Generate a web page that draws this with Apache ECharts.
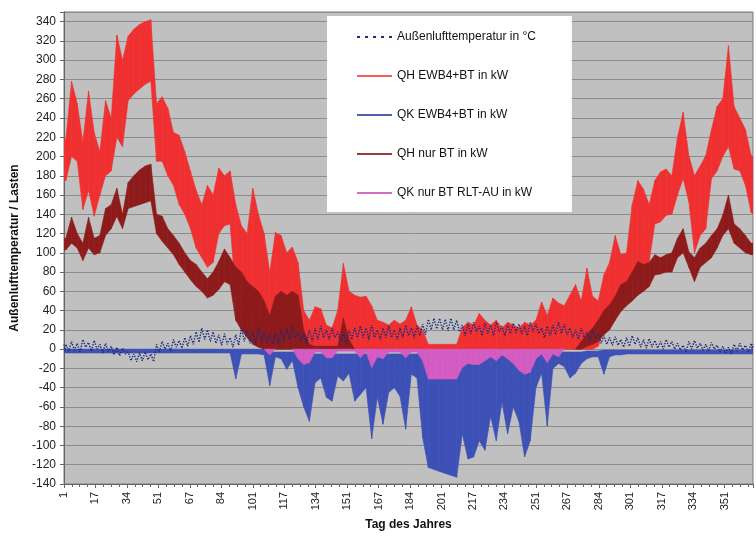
<!DOCTYPE html>
<html><head><meta charset="utf-8">
<script src="https://cdn.jsdelivr.net/npm/echarts@6/dist/echarts.min.js"></script>
<style>html,body{margin:0;padding:0;background:#fff}#c{width:756px;height:536px}</style>
</head><body><div id="c"></div>
<script>
// sample positions (days since 1 Jan, x axis value)
const dayPos = [0,1,4,7,10,13,16,19,22,25, 28,31,34,37,40,43,46,49,52,55, 58,61,64,67,70,73,76,79,82,85, 88,91,94,97,100,103,106,109,112,115, 118,121,124,127,130,133,136,139,142,145, 148,151,154,157,160,163,166,169,172,175, 178,181,184,187,190,193,196,199,202,205, 208,211,214,217,220,223,226,229,232,235, 238,241,244,247,250,253,256,259,262,265, 268,271,274,277,280,283,286,289,292,295, 298,301,304,307,310,313,316,319,322,325, 328,331,334,337,340,343,346,349,352,355, 358,361,364,365];

const tickLabels = ['1','17','34','51','67','84','101','117','134','151','167','184','201','217','234','251','267','284','301','317','334','351'];

// QH EWB4+BT in kW (upper / lower envelope)
const qhHi = [218,218,278,255,215,268,225,205,258,240, 326,300,325,332,337,340,342,255,262,250, 225,222,205,185,165,150,170,160,188,180, 185,150,128,120,167,140,120,80,121,118, 100,106,90,40,30,44,42,25,22,40, 89,60,56,54,55,45,30,28,25,30, 26,30,44,25,20,5,5,5,5,5, 5,22,28,25,37,30,25,30,22,28, 25,22,28,25,30,49,35,53,48,45, 56,67,50,84,55,50,77,90,118,98, 100,150,175,166,150,175,184,187,180,220, 246,201,180,190,201,228,252,260,315,252, 240,228,201,200];
const qhLo = [175,175,200,195,145,165,138,160,180,185, 220,210,258,265,270,275,278,195,195,180, 170,150,140,125,105,95,85,90,120,128, 130,55,70,35,40,15,10,2,10,15, 15,10,5,0,0,0,0,0,0,0, 0,0,0,0,0,0,0,0,0,0, 0,0,0,0,0,0,0,0,0,0, 0,0,0,0,0,0,0,0,0,0, 0,0,0,0,0,0,0,0,0,0, 0,0,0,0,0,3,20,22,32,50, 55,70,77,85,91,130,132,139,140,160, 177,153,100,118,125,177,185,200,210,187, 185,170,142,140];

// QH nur BT in kW
const qhbtHi = [115,115,137,120,110,137,115,118,146,150, 167,140,173,180,186,190,192,140,138,125, 118,110,100,92,88,80,73,80,91,104, 95,85,80,70,65,60,50,35,55,60, 56,60,56,20,5,3,3,3,3,3, 32,10,0,0,0,0,0,0,0,0, 0,0,0,0,0,0,0,0,0,0, 0,0,0,0,0,0,0,0,0,0, 0,0,0,0,0,0,0,0,0,0, 0,0,8,15,22,30,40,46,55,67, 70,80,91,88,90,98,95,98,100,115, 125,101,95,105,110,118,125,139,160,130, 125,118,110,110];
const qhbtLo = [103,103,110,105,92,105,98,100,118,125, 138,125,146,148,150,152,154,120,112,105, 98,88,80,72,65,60,53,56,62,70, 67,30,20,12,5,2,0,0,0,0, 0,0,0,0,0,0,0,0,0,0, 0,0,0,0,0,0,0,0,0,0, 0,0,0,0,0,0,0,0,0,0, 0,0,0,0,0,0,0,0,0,0, 0,0,0,0,0,0,0,0,0,0, 0,0,0,3,5,8,15,20,30,39, 45,50,56,60,65,77,78,80,80,95, 100,85,70,85,90,95,105,118,125,110, 105,100,98,98];

// QK EWB4+BT in kW
const qkHi = [0,0,0,0,0,0,0,0,0,0, 0,0,0,0,0,0,0,0,0,0, 0,0,0,0,0,0,0,0,0,0, 0,0,0,0,0,0,0,-3,-3,-3, -3,-3,-3,-3,-3,-5,-5,-5,-5,-5, -5,-5,-5,-5,-5,-5,-5,-5,-5,-5, -5,-5,-5,-5,-5,-5,-5,-5,-5,-5, -5,-5,-5,-5,-5,-5,-5,-5,-5,-5, -5,-5,-5,-5,-5,-4,-4,-4,-3,-3, -3,-3,-3,-2,-2,-2,-1,-1,-1,-1, -1,-1,-1,-1,-1,-1,-1,-1,-1,-1, -1,-1,-1,-1,-1,-1,-1,-1,-1,-1, -1,-1,-1,-1];
const qkLo = [-4,-4,-4,-4,-4,-4,-4,-4,-4,-4, -4,-4,-4,-4,-4,-4,-4,-4,-4,-4, -4,-4,-4,-4,-4,-4,-4,-4,-4,-4, -4,-31,-5,-5,-5,-5,-6,-38,-8,-10, -21,-12,-40,-60,-75,-35,-30,-50,-54,-28, -33,-25,-54,-47,-40,-93,-50,-78,-45,-40, -49,-83,-26,-30,-92,-123,-125,-127,-129,-131, -133,-88,-114,-112,-95,-105,-70,-95,-55,-88, -60,-75,-112,-95,-40,-25,-80,-20,-15,-18, -30,-25,-15,-10,-8,-8,-26,-8,-6,-6, -5,-5,-5,-5,-5,-5,-5,-5,-5,-5, -5,-5,-5,-5,-5,-5,-5,-5,-5,-5, -5,-5,-5,-5];

// QK nur BT RLT-AU in kW (from 0 down to)
const qkbtLo = [0,0,0,0,0,0,0,0,0,0, 0,0,0,0,0,0,0,0,0,0, 0,0,0,0,0,0,0,0,0,0, 0,0,0,0,0,0,0,-6,0,0, 0,0,-10,-16,-14,-3,-3,-9,-9,-2, -2,-2,-2,-9,-3,-19,-8,-10,-3,-3, -3,-9,-3,-3,-12,-31,-31,-31,-31,-31, -31,-19,-15,-16,-16,-12,-8,-12,-6,-10, -15,-22,-26,-24,-10,-5,-14,-5,-8,0, 0,0,0,0,0,0,0,0,0,0, 0,0,0,0,0,0,0,0,0,0, 0,0,0,0,0,0,0,0,0,0, 0,0,0,0];

// Außenlufttemperatur in °C (daily max / min)
const tHi = [5,5,8,6,10,7,9,5,6,3, 2,1,-3,-5,-4,-3,-5,5,8,6, 10,9,12,14,18,22,20,18,15,16, 12,15,22,20,18,22,18,15,16,20, 22,24,18,16,20,22,24,20,22,18, 16,20,22,24,22,25,20,22,24,20, 22,25,22,24,26,31,32,32,31,32, 30,25,26,28,24,27,25,28,24,26, 27,26,24,28,26,22,24,25,28,26, 22,20,22,18,20,16,14,12,13,10, 12,14,12,10,11,9,8,10,8,6, 4,8,9,6,5,7,4,3,2,5, 6,4,6,5];
const tLo = [-2,-2,-1,-3,2,-2,0,-4,-3,-6, -7,-5,-12,-13,-12,-11,-13,-3,0,-2, 2,1,3,5,7,10,8,6,4,5, 2,4,8,6,5,8,6,5,6,8, 10,12,8,6,8,10,12,10,12,8, 6,10,12,12,10,12,10,12,12,10, 12,14,12,14,15,20,21,20,19,20, 18,14,16,18,14,16,14,18,14,16, 17,16,14,18,16,12,14,15,16,15, 12,10,12,8,10,6,5,4,4,2, 3,5,2,1,2,1,0,2,0,-1, -3,0,1,-1,-2,0,-3,-4,-5,-2, -1,-3,-1,-2];

const NAMES = ['Außenlufttemperatur in °C','QH EWB4+BT in kW','QK EWB4+BT in kW','QH nur BT in kW','QK nur BT RLT-AU in kW'];
const COLORS = ['#1c2a7c','#f03030','#3d50b6','#8e1b1b','#d45cc2'];

function bandData(lo, hi) {
  const rows = [];
  for (let i = 0; i < dayPos.length - 1; i++) rows.push([dayPos[i], lo[i], hi[i], dayPos[i + 1], lo[i + 1], hi[i + 1]]);
  return rows;
}
function bandSeries(name, lo, hi, color) {
  return {
    name, type: 'custom', coordinateSystem: 'cartesian2d', clip: true,
    data: bandData(lo, hi),
    encode: {x: [0, 3], y: [1, 2, 4, 5]},
    itemStyle: {color},
    renderItem: function (params, api) {
      const x0 = api.value(0), l0 = api.value(1), h0 = api.value(2);
      const x1 = api.value(3), l1 = api.value(4), h1 = api.value(5);
      if (l0 === h0 && l1 === h1) return null;
      const pts = [api.coord([x0, l0]), api.coord([x0, h0]), api.coord([x1, h1]), api.coord([x1, l1])];
      return {type: 'polygon', shape: {points: pts}, style: {fill: color, stroke: color, lineWidth: 0.6}};
    }
  };
}
const zeros = qkbtLo.map(() => 0);
const tempPts = [];
for (let i = 0; i < dayPos.length; i++) {
  tempPts.push([dayPos[i], tHi[i]]);
  if (i < dayPos.length - 1) tempPts.push([(dayPos[i] + dayPos[i + 1]) / 2, tLo[i]]);
}

const STEP = 400 / 24;
const lineIcon = 'path://M0 0h35v2h-35z';
const dotIcon = 'path://M0 0h3v2h-3z M8 0h3v2h-3z M16 0h3v2h-3z M24 0h3v2h-3z M32 0h3v2h-3z';

const chart = echarts.init(document.getElementById('c'));
chart.setOption({
  animation: false,
  textStyle: {fontFamily: 'Liberation Sans, Arial, sans-serif'},
  grid: {left: 64, right: 3, top: 12, bottom: 49, show: true, backgroundColor: '#c0c0c0', borderColor: '#7a7a7a', borderWidth: 1},
  legend: {
    orient: 'vertical', left: 327, top: 16, backgroundColor: '#ffffff',
    padding: [15, 36, 13, 30], itemGap: 27, itemWidth: 35, itemHeight: 12, selectedMode: false,
    textStyle: {fontSize: 12, color: '#111'},
    data: [
      {name: NAMES[0], icon: dotIcon, itemStyle: {color: COLORS[0], borderWidth: 0}},
      {name: NAMES[1], icon: lineIcon, itemStyle: {color: '#f06060', borderWidth: 0}},
      {name: NAMES[2], icon: lineIcon, itemStyle: {color: '#5060b0', borderWidth: 0}},
      {name: NAMES[3], icon: lineIcon, itemStyle: {color: '#9a3a3a', borderWidth: 0}},
      {name: NAMES[4], icon: lineIcon, itemStyle: {color: '#d070c0', borderWidth: 0}}
    ]
  },
  xAxis: {
    type: 'value', min: 0, max: 365, interval: STEP,
    name: 'Tag des Jahres', nameLocation: 'middle', nameGap: 35,
    nameTextStyle: {fontWeight: 'bold', fontSize: 12, color: '#111'},
    axisLine: {show: true, onZero: false, lineStyle: {color: '#666'}},
    axisTick: {show: true, length: 4, lineStyle: {color: '#666'}},
    minorTick: {show: true, splitNumber: 4, length: 3, lineStyle: {color: '#666'}},
    splitLine: {show: false},
    axisLabel: {rotate: 90, fontSize: 11, color: '#222', margin: 8,
      formatter: v => { const k = Math.round(v / STEP); return (Math.abs(v - k * STEP) < 0.01 && tickLabels[k]) ? tickLabels[k] : ''; }}
  },
  yAxis: {
    type: 'value', min: -140, max: 350, interval: 20,
    name: 'Außenlufttemperatur / Lasten', nameLocation: 'middle', nameGap: 40,
    nameTextStyle: {fontWeight: 'bold', fontSize: 12, color: '#111'},
    axisLine: {show: true, lineStyle: {color: '#666'}},
    axisTick: {show: true, length: 4, lineStyle: {color: '#666'}},
    splitLine: {lineStyle: {color: '#8c8c8c'}},
    axisLabel: {fontSize: 12, color: '#222', margin: 8, formatter: v => (Math.abs(v % 20) < 1e-6 ? String(v) : '')}
  },
  series: [
    bandSeries(NAMES[1], qhLo, qhHi, COLORS[1]),
    bandSeries(NAMES[2], qkLo, qkHi, COLORS[2]),
    bandSeries(NAMES[3], qhbtLo, qhbtHi, COLORS[3]),
    bandSeries(NAMES[4], qkbtLo, zeros, COLORS[4]),
    {name: NAMES[0], type: 'line', data: tempPts, symbol: 'none', showSymbol: false,
      lineStyle: {color: COLORS[0], width: 1.4, type: 'dotted'}, itemStyle: {color: COLORS[0]}}
  ]
});
</script>
</body></html>
